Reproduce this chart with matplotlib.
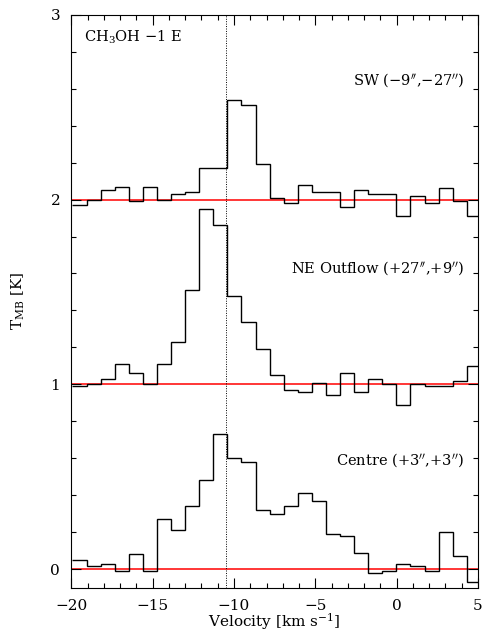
import matplotlib
matplotlib.use("Agg")
import matplotlib.pyplot as plt
from matplotlib.ticker import MultipleLocator

plt.rcParams['font.family'] = ['DejaVu Serif']
plt.rcParams['mathtext.fontset'] = 'dejavuserif'

# channel centre velocities [km/s]
velocity = [-19.50, -18.63, -17.77, -16.90, -16.04, -15.17, -14.30, -13.44,
            -12.57, -11.71, -10.84, -9.97, -9.11, -8.24, -7.38, -6.51,
            -5.64, -4.78, -3.91, -3.05, -2.18, -1.31, -0.45, 0.42,
            1.28, 2.15, 3.02, 3.88, 4.75]

# spectra (offsets already included: SW +2, NE +1, Centre 0)
sw = [1.97, 2.00, 2.05, 2.07, 1.99, 2.07, 2.00, 2.03, 2.04, 2.17,
      2.17, 2.54, 2.51, 2.19, 2.01, 1.98, 2.08, 2.04, 2.04, 1.96,
      2.05, 2.03, 2.03, 1.91, 2.02, 1.98, 2.06, 1.99, 1.91]
ne = [0.99, 1.00, 1.03, 1.11, 1.06, 1.00, 1.11, 1.23, 1.51, 1.95,
      1.86, 1.48, 1.34, 1.19, 1.05, 0.97, 0.96, 1.01, 0.94, 1.06,
      0.96, 1.03, 1.00, 0.89, 1.00, 0.99, 0.99, 1.02, 1.10]
centre = [0.05, 0.02, 0.03, -0.01, 0.08, -0.01, 0.27, 0.21, 0.34, 0.48,
          0.73, 0.60, 0.58, 0.32, 0.30, 0.34, 0.41, 0.37, 0.19, 0.18,
          0.09, -0.02, -0.01, 0.03, 0.02, -0.01, 0.20, 0.07, -0.07]

baselines = [0, 1, 2]
v_sys = -10.5

labels = ["Centre (+3$''$,+3$''$)", "NE Outflow (+27$''$,+9$''$)", "SW (\u22129$''$,\u221227$''$)"]
label_y = [0.223, 0.557, 0.886]

# channel edges from the centres
edges = [velocity[0] - (velocity[1] - velocity[0]) / 2]
for a, b in zip(velocity[:-1], velocity[1:]):
    edges.append((a + b) / 2)
edges.append(velocity[-1] + (velocity[-1] - velocity[-2]) / 2)

fig = plt.figure(figsize=(4.84, 6.32), dpi=100)
ax = fig.add_axes([0.1474, 0.0701, 0.8402, 0.9066])

for b in baselines:
    ax.axhline(b, color="red", lw=1.1, zorder=1)
ax.axvline(v_sys, color="black", ls=(0, (1, 1.5)), lw=0.7, zorder=1)

for spec in [sw, ne, centre]:
    ax.stairs(spec, edges, baseline=None, color="black", lw=1.0, zorder=2)

ax.set_xlim(-20, 5)
ax.set_ylim(-0.1, 3)
ax.xaxis.set_major_locator(MultipleLocator(5))
ax.xaxis.set_minor_locator(MultipleLocator(1))
ax.yaxis.set_major_locator(MultipleLocator(1))
ax.yaxis.set_minor_locator(MultipleLocator(0.2))
ax.tick_params(which="both", direction="in", top=True, right=True, labelsize=11)
ax.tick_params(which="major", length=7, width=0.8, pad=8)
ax.tick_params(which="minor", length=3.5, width=0.8)

ax.text(0.031, 0.961, "CH$_3$OH \u22121 E", transform=ax.transAxes,
        ha="left", va="center", fontsize=10.5)
for lab, yy in zip(labels, label_y):
    ax.text(0.966, yy, lab, transform=ax.transAxes, ha="right", va="center", fontsize=10.5)

ax.set_xlabel("Velocity [km s$^{-1}$]", fontsize=11, labelpad=-1)
ax.set_ylabel("T$_{\\rm MB}$ [K]", fontsize=11, labelpad=17)

fig.savefig("out.png", dpi=100)
